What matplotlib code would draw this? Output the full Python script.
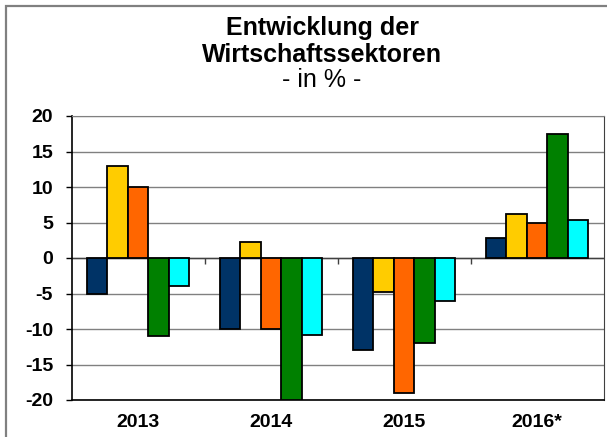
# -*- coding: utf-8 -*-
import numpy as np
import matplotlib
matplotlib.use("Agg")
import matplotlib.pyplot as plt
from matplotlib.patches import Rectangle


YEARS = ["2013", "2014", "2015", "2016*"]

# One list per economic sector (values in %).
SECTOR_1 = [-5.0, -10.0, -13.0, 2.8]
SECTOR_2 = [13.0, 2.2, -4.8, 6.2]
SECTOR_3 = [10.0, -10.0, -19.0, 5.0]
SECTOR_4 = [-11.0, -20.0, -12.0, 17.4]
SECTOR_5 = [-4.0, -10.8, -6.0, 5.3]

COLORS = ["#003366", "#FFCC00", "#FF6600", "#008000", "#00FFFF"]

Y_TICKS = [-20, -15, -10, -5, 0, 5, 10, 15, 20]


def main():
    plt.rcParams["font.family"] = ["Liberation Sans", "DejaVu Sans"]

    series = [SECTOR_1, SECTOR_2, SECTOR_3, SECTOR_4, SECTOR_5]
    n = len(series)
    x = np.arange(len(YEARS))
    # Excel-like gap width of 150 %.
    width = 1 / (n + 1.5)

    W, H = 607, 437
    fig = plt.figure(figsize=(W / 100, H / 100), dpi=100)
    fig.patch.set_facecolor("white")

    # Outer chart frame (runs past the right and bottom edge).
    frame = Rectangle((6 / W, -0.1), 1.2, 1 - 6 / H + 0.1,
                      transform=fig.transFigure, fill=False,
                      edgecolor="#808080", linewidth=1.6)
    fig.patches.append(frame)

    ax = fig.add_axes([71.5 / W, 37 / H, 532 / W, 284 / H])

    for k, vals in enumerate(series):
        ax.bar(x + (k - (n - 1) / 2) * width, vals, width=width,
               color=COLORS[k], edgecolor="black", linewidth=1.3, zorder=3)

    ax.set_xlim(-0.5, len(YEARS) - 0.5)
    ax.set_ylim(-20, 20)
    ax.set_yticks(Y_TICKS)
    ax.set_yticklabels([str(t) for t in Y_TICKS], fontsize=14,
                       fontweight="bold")
    ax.set_xticks(x)
    ax.set_xticklabels(YEARS, fontsize=14, fontweight="bold")
    ax.tick_params(axis="x", length=0, pad=10)
    ax.tick_params(axis="y", length=4.3, width=1, pad=9, direction="out")

    ax.yaxis.grid(True, color="#808080", linewidth=1, zorder=0)
    ax.set_axisbelow(True)

    # Category axis at zero with small boundary ticks.
    ax.axhline(0, color="#404040", linewidth=1, zorder=2)
    bounds = np.arange(len(YEARS) + 1) - 0.5
    ax.vlines(bounds[1:-1], -0.85, 0, color="#404040", linewidth=1, zorder=2)

    for side in ("left", "bottom"):
        ax.spines[side].set_color("black")
        ax.spines[side].set_linewidth(1.2)
    ax.spines["right"].set_color("#404040")
    ax.spines["top"].set_color("#808080")

    # Title block is centred on the (wider, cropped) chart frame.
    cx = 322 / W
    fig.text(cx, 1 - 35 / H, "Entwicklung der", ha="center",
             va="baseline", fontsize=18, fontweight="bold")
    fig.text(cx, 1 - 62 / H, "Wirtschaftssektoren", ha="center",
             va="baseline", fontsize=18, fontweight="bold")
    fig.text(cx, 1 - 87 / H, "- in % -", ha="center", va="baseline",
             fontsize=18)

    fig.savefig("out.png", dpi=100)


if __name__ == "__main__":
    main()
